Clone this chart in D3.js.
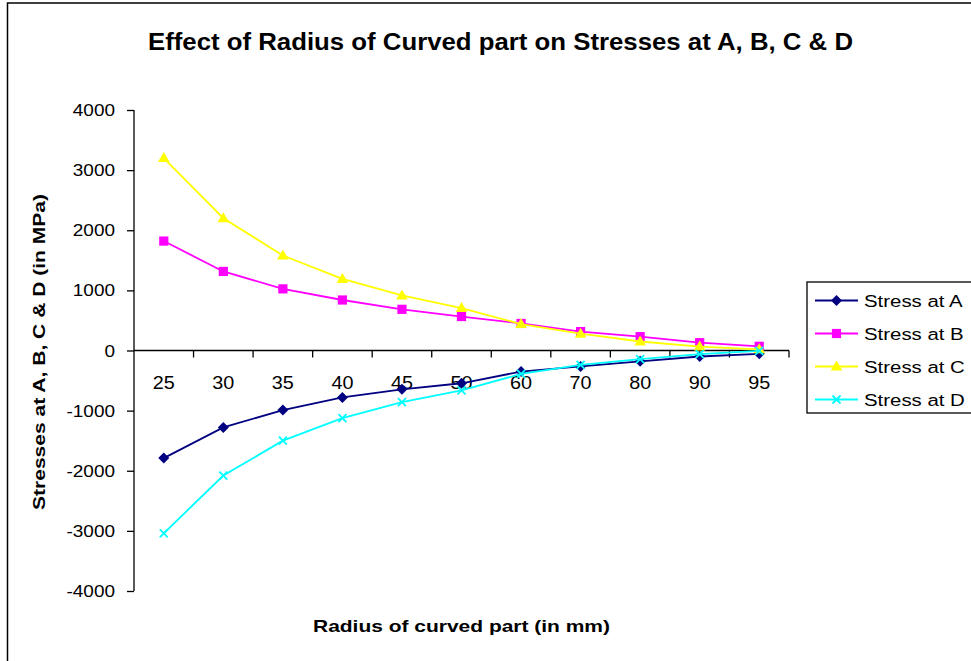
<!DOCTYPE html>
<html><head><meta charset="utf-8">
<script src="https://cdn.jsdelivr.net/npm/d3@7"></script>
<style>body{margin:0;background:#fff}svg{display:block}</style>
</head><body>
<svg id="c" width="971" height="661"></svg>
<script>
const categories = ["25","30","35","40","45","50","60","70","80","90","95"];
const stressA = [-1790,-1280,-990,-780,-645,-545,-350,-265,-180,-100,-55];
const stressB = [1820,1315,1025,840,685,565,450,315,230,130,70];
const stressC = [3200,2200,1580,1190,915,705,440,280,150,65,20];
const stressD = [-3040,-2080,-1500,-1125,-860,-665,-390,-240,-145,-60,-5];
const yTicks = [-4000,-3000,-2000,-1000,0,1000,2000,3000,4000];
const seriesNames = ["Stress at A","Stress at B","Stress at C","Stress at D"];
const seriesColors = ["#000080","#FF00FF","#FFFF00","#00FFFF"];
const seriesSymbols = ["diamond","square","triangle","x"];

const svg = d3.select("#c");
const F = "Liberation Sans, Arial, sans-serif";
svg.append("rect").attr("x",7.5).attr("y",3).attr("width",980).attr("height",670)
  .attr("fill","#fff").attr("stroke","#000").attr("stroke-width",1.5);

const x = d3.scaleBand().domain(categories).range([134,789]);
const y = d3.scaleLinear().domain([-4000,4000]).range([591,110]);
const fmt = v => String(v); // hyphen-minus as in reference

// y axis
const yAx = svg.append("g").attr("transform","translate(134,0)")
  .call(d3.axisLeft(y).tickValues(yTicks).tickSize(7).tickFormat(""));
yAx.select(".domain").attr("stroke","#000").attr("stroke-width",1.3).attr("d","M0,110V591");
yAx.selectAll("line").attr("stroke","#000").attr("stroke-width",1.3);
svg.append("g").selectAll("text").data(yTicks).join("text")
  .attr("transform",d=>`translate(115,${y(d)+6}) scale(1.15,1)`)
  .attr("text-anchor","end").attr("font-family",F).attr("font-size",16.5).attr("fill","#000")
  .text(fmt);

// x axis at zero
const y0 = y(0);
const xg = svg.append("g");
xg.append("line").attr("x1",134).attr("x2",789).attr("y1",y0).attr("y2",y0)
  .attr("stroke","#000").attr("stroke-width",1.3);
const bounds = categories.map(c=>x(c)).concat([x(categories[categories.length-1])+x.bandwidth()]);
xg.selectAll("line.t").data(bounds.slice(1)).join("line").attr("class","t")
  .attr("x1",d=>d).attr("x2",d=>d).attr("y1",y0).attr("y2",y0+7)
  .attr("stroke","#000").attr("stroke-width",1.3);
xg.selectAll("text").data(categories).join("text")
  .attr("transform",d=>`translate(${x(d)+x.bandwidth()/2},${y0+38}) scale(1.1,1)`)
  .attr("text-anchor","middle").attr("font-family",F).attr("font-size",18).text(d=>d);

// series
const allSeries = [stressA,stressB,stressC,stressD];
const line = d3.line().x((d,i)=>x(categories[i])+x.bandwidth()/2).y(d=>y(d));
function drawMarker(g, kind, color, cx, cy){
  if(kind==="diamond"){
    g.append("path").attr("d",`M${cx},${cy-5.5}L${cx+5.5},${cy}L${cx},${cy+5.5}L${cx-5.5},${cy}Z`).attr("fill",color);
  } else if(kind==="square"){
    g.append("rect").attr("x",cx-4.6).attr("y",cy-4.6).attr("width",9.2).attr("height",9.2).attr("fill",color);
  } else if(kind==="triangle"){
    g.append("path").attr("d",`M${cx},${cy-6}L${cx+5.8},${cy+4}L${cx-5.8},${cy+4}Z`).attr("fill",color);
  } else {
    g.append("path").attr("d",`M${cx-4},${cy-4}L${cx+4},${cy+4}M${cx+4},${cy-4}L${cx-4},${cy+4}`)
      .attr("stroke",color).attr("stroke-width",1.8).attr("fill","none");
  }
}
allSeries.forEach((s,k)=>{
  const g = svg.append("g");
  g.append("path").datum(s).attr("d",line).attr("fill","none")
    .attr("stroke",seriesColors[k]).attr("stroke-width",1.8);
  s.forEach((v,i)=>drawMarker(g,seriesSymbols[k],seriesColors[k],x(categories[i])+x.bandwidth()/2,y(v)));
});

// title
svg.append("text").attr("x",500.5).attr("y",50).attr("text-anchor","middle")
  .attr("font-family",F).attr("font-weight","bold").attr("font-size",23)
  .attr("textLength",705).attr("lengthAdjust","spacingAndGlyphs")
  .text("Effect of Radius of Curved part on Stresses at A, B, C & D");
// axis titles
svg.append("text").attr("x",461.5).attr("y",632).attr("text-anchor","middle")
  .attr("font-family",F).attr("font-weight","bold").attr("font-size",17)
  .attr("textLength",297).attr("lengthAdjust","spacingAndGlyphs")
  .text("Radius of curved part (in mm)");
svg.append("text").attr("transform","translate(45,352) rotate(-90)").attr("text-anchor","middle")
  .attr("font-family",F).attr("font-weight","bold").attr("font-size",17)
  .attr("textLength",316).attr("lengthAdjust","spacingAndGlyphs")
  .text("Stresses at A, B, C & D (in MPa)");

// legend
const lg = svg.append("g");
lg.append("rect").attr("x",807).attr("y",282).attr("width",180).attr("height",131)
  .attr("fill","#fff").attr("stroke","#000").attr("stroke-width",1.3);
seriesNames.forEach((n,k)=>{
  const ly = 300.5 + k*33;
  lg.append("line").attr("x1",815).attr("x2",858).attr("y1",ly).attr("y2",ly)
    .attr("stroke",seriesColors[k]).attr("stroke-width",1.8);
  drawMarker(lg,seriesSymbols[k],seriesColors[k],836.5,ly);
  lg.append("text").attr("transform",`translate(864,${ly+6}) scale(1.2,1)`)
    .attr("font-family",F).attr("font-size",17).text(n);
});
</script>
</body></html>
